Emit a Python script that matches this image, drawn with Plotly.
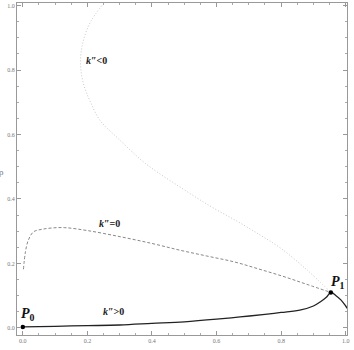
import plotly.graph_objects as go

# k''>0 branch (solid)
pos_x = [0.0, 0.1, 0.2, 0.3, 0.4, 0.5, 0.6, 0.673, 0.75, 0.8, 0.861, 0.9, 0.923, 0.94, 0.954, 0.97, 0.985, 1.0, 1.007]
pos_y = [0.003, 0.005, 0.007, 0.009, 0.014, 0.019, 0.027, 0.034, 0.042, 0.048, 0.056, 0.068, 0.082, 0.095, 0.110, 0.100, 0.087, 0.068, 0.058]

# k''=0 branch (dashed)
zero_x = [0.002, 0.008, 0.017, 0.033, 0.06, 0.09, 0.13, 0.2, 0.301, 0.4, 0.487, 0.57, 0.654, 0.73, 0.809, 0.88, 0.954]
zero_y = [0.182, 0.235, 0.272, 0.298, 0.306, 0.310, 0.311, 0.302, 0.283, 0.262, 0.241, 0.223, 0.205, 0.183, 0.159, 0.135, 0.110]

# k''<0 branch (dotted)
neg_x = [0.245, 0.21, 0.19, 0.18, 0.18, 0.19, 0.21, 0.239, 0.296, 0.38, 0.487, 0.58, 0.667, 0.74, 0.799, 0.88, 0.954]
neg_y = [1.0, 0.95, 0.90, 0.85, 0.80, 0.75, 0.70, 0.644, 0.587, 0.51, 0.437, 0.378, 0.329, 0.285, 0.247, 0.18, 0.110]

pts_x = [0.0, 0.954]
pts_y = [0.003, 0.110]
pts_text = ["<b><i>P</i><sub>0</sub></b>", "<b><i>P</i><sub>1</sub></b>"]

labels = ["<b><i>k</i>″<0</b>", "<b><i>k</i>″=0</b>", "<b><i>k</i>″>0</b>"]
label_x = [0.228, 0.27, 0.28]
label_y = [0.83, 0.325, 0.05]

xticks = [0.0, 0.2, 0.4, 0.6, 0.8, 1.0]
yticks = [0.0, 0.2, 0.4, 0.6, 0.8, 1.0]

fig = go.Figure()
fig.add_trace(go.Scatter(x=neg_x, y=neg_y, mode="lines", line=dict(color="#c8c8c8", width=1, dash="1px,2px", shape="spline"), hoverinfo="skip"))
fig.add_trace(go.Scatter(x=zero_x, y=zero_y, mode="lines", line=dict(color="#888888", width=1, dash="3px,2px", shape="spline"), hoverinfo="skip"))
fig.add_trace(go.Scatter(x=pos_x, y=pos_y, mode="lines", line=dict(color="#222222", width=1.3, shape="spline"), hoverinfo="skip"))
fig.add_trace(go.Scatter(x=pts_x, y=pts_y, mode="markers", marker=dict(color="black", size=4.5), hoverinfo="skip"))

font_serif = "Liberation Serif"
for t, x, y in zip(labels, label_x, label_y):
    fig.add_annotation(x=x, y=y, text=t, showarrow=False, font=dict(family=font_serif, size=10, color="#222"))

fig.add_annotation(x=0.016, y=0.043, text=pts_text[0], showarrow=False, font=dict(family=font_serif, size=14, color="#111"))
fig.add_annotation(x=0.977, y=0.142, text=pts_text[1], showarrow=False, font=dict(family=font_serif, size=14, color="#111"))

# axis titles
fig.add_annotation(xref="paper", yref="paper", x=-0.032, y=0.49, text="ρ", showarrow=False,
                   xanchor="right", font=dict(family=font_serif, size=9, color="#777"))
fig.add_annotation(xref="paper", yref="paper", x=0.5, y=-0.04, text="Ω", showarrow=False,
                   yanchor="top", font=dict(family=font_serif, size=9, color="#777"))

axis_common = dict(showgrid=False, zeroline=False, showline=True, linecolor="#999999", linewidth=1,
                   mirror="allticks", ticks="inside", ticklen=4, tickcolor="#999999", tickwidth=1,
                   tickfont=dict(family=font_serif, size=6, color="#777"),
                   minor=dict(ticks="inside", ticklen=2, tickcolor="#aaaaaa", nticks=5))

fig.update_xaxes(range=[-0.018, 1.004], tickvals=xticks, ticktext=[f"{v:.1f}" for v in xticks], **axis_common)
fig.update_yaxes(range=[-0.022, 1.008], tickvals=yticks, ticktext=[f"{v:.1f}" for v in yticks], **axis_common)

fig.update_layout(width=354, height=350, margin=dict(l=17, r=7, t=3, b=15),
                  paper_bgcolor="white", plot_bgcolor="white", showlegend=False)

fig.write_html("out.html")
